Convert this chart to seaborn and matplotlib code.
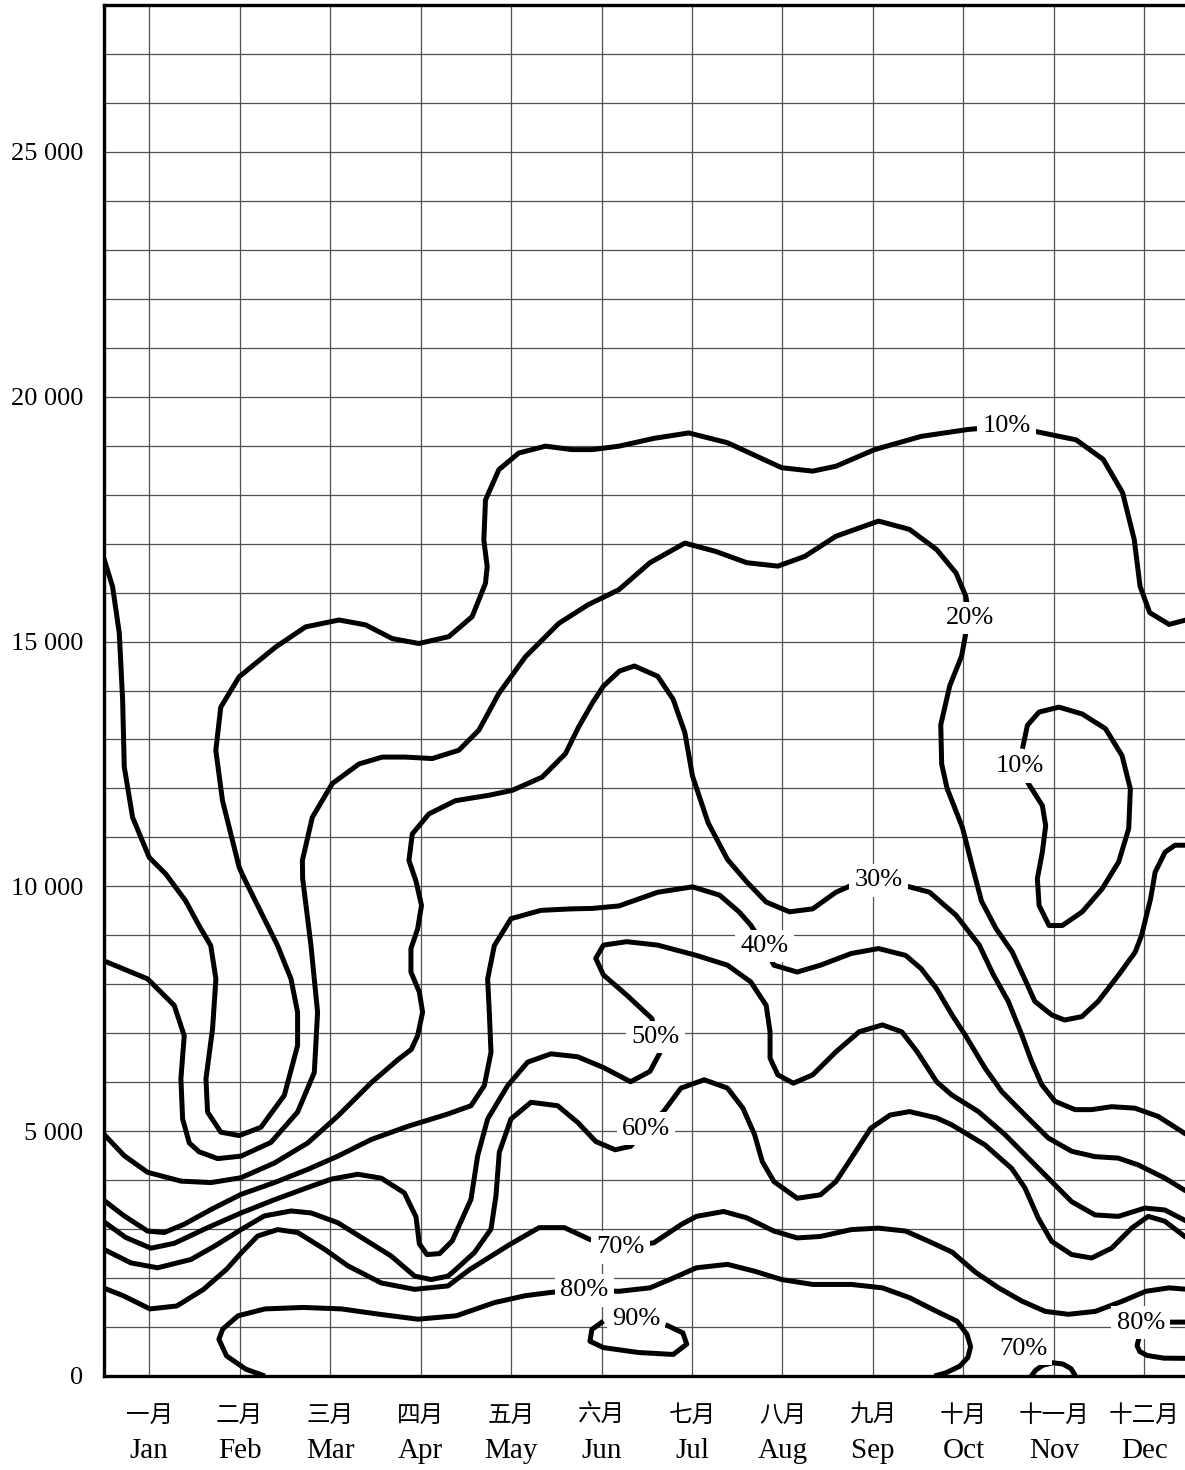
import matplotlib
matplotlib.use("Agg")
import matplotlib.pyplot as plt
import seaborn as sns
import pandas as pd
from matplotlib.ticker import MultipleLocator, FuncFormatter

# ---------------- data ----------------
months_en = ["Jan", "Feb", "Mar", "Apr", "May", "Jun", "Jul", "Aug", "Sep", "Oct", "Nov", "Dec"]
months_zh = ["一月", "二月", "三月", "四月", "五月", "六月", "七月", "八月", "九月", "十月", "十一月", "十二月"]
month_pos = [1, 2, 3, 4, 5, 6, 7, 8, 9, 10, 11, 12]
ytick_values = [0, 5000, 10000, 15000, 20000, 25000]

# 10% main line
c10_x = [0.49, 0.503, 0.595, 0.669, 0.706, 0.724, 0.816, 1.0, 1.184, 1.40, 1.55, 1.68, 1.737, 1.70, 1.627,
         1.645, 1.792, 1.995, 2.235, 2.493, 2.640, 2.640, 2.567, 2.419, 2.198, 2.05, 1.994, 1.81, 1.736,
         1.791, 1.994, 2.399, 2.730, 3.098, 3.392, 3.687, 3.981, 4.312, 4.570, 4.717, 4.736, 4.699, 4.717,
         4.865, 5.085, 5.380, 5.674, 5.90, 6.193, 6.58, 6.964, 7.392, 7.991, 8.334, 8.591, 9.019, 9.533,
         10.047, 10.47, 10.797, 11.246, 11.546, 11.760, 11.889, 11.953, 12.060, 12.274, 12.48]
c10_y = [16750, 16670, 16120, 15170, 13800, 12440, 11410, 10590, 10250, 9710, 9200, 8790, 8110, 7090, 6070,
         5390, 4980, 4910, 5080, 5730, 6750, 7430, 8110, 8790, 9610, 10160, 10390, 11750, 12780,
         13660, 14280, 14890, 15300, 15440, 15340, 15060, 14960, 15100, 15510, 16190, 16530, 17070, 17890,
         18510, 18850, 18990, 18920, 18920, 18990, 19150, 19260, 19060, 18550, 18480, 18580, 18920, 19190,
         19330, 19400, 19290, 19120, 18720, 18040, 17080, 16130, 15590, 15350, 15450]

# 10% closed loop (Nov)
c10b_x = [10.653, 10.708, 10.837, 11.057, 11.314, 11.571, 11.754, 11.846, 11.828, 11.717, 11.534, 11.314,
          11.094, 10.947, 10.837, 10.818, 10.873, 10.910, 10.873, 10.708]
c10b_y = [12810, 13290, 13560, 13660, 13520, 13220, 12670, 11990, 11180, 10500, 9950, 9480,
          9200, 9200, 9610, 10160, 10700, 11240, 11650, 12130]

# 20%
c20_x = [0.484, 0.982, 1.276, 1.387, 1.350, 1.369, 1.443, 1.55, 1.756, 2.014, 2.345, 2.640, 2.825, 2.861,
         2.788, 2.696, 2.693, 2.803, 3.024, 3.319, 3.576, 3.834, 4.128, 4.423, 4.644, 4.865, 5.159, 5.527,
         5.85, 6.193, 6.535, 6.921, 7.263, 7.606, 7.949, 8.248, 8.591, 9.062, 9.405, 9.704, 9.919, 10.026,
         10.07, 10.03, 9.98, 9.85, 9.75, 9.76, 9.82, 9.99, 10.10, 10.20, 10.36, 10.54, 10.68, 10.79, 10.98,
         11.12, 11.31, 11.49, 11.72, 11.90, 11.97, 12.07, 12.12, 12.23, 12.34, 12.47]
c20_y = [8490, 8110, 7570, 6950, 6070, 5250, 4760, 4580, 4440, 4490, 4770, 5390, 6200, 7430,
         8790, 10160, 10530, 11410, 12100, 12500, 12640, 12640, 12610, 12780, 13190, 13940, 14690, 15370,
         15750, 16060, 16610, 17010, 16840, 16610, 16540, 16740, 17150, 17460, 17290, 16880, 16400, 15930,
         15480, 15200, 14700, 14100, 13300, 12500, 12000, 11200, 10400, 9700, 9140, 8660, 8100, 7650, 7370,
         7270, 7340, 7650, 8200, 8660, 9000, 9750, 10290, 10700, 10840, 10840]

# 30%
c30_x = [0.483, 0.723, 0.982, 1.351, 1.683, 2.015, 2.384, 2.753, 3.085, 3.454, 3.749, 3.897, 3.967, 4.022,
         3.986, 3.893, 3.893, 3.967, 4.01, 3.95, 3.871, 3.908, 4.092, 4.386, 4.754, 5.012, 5.343, 5.601,
         5.748, 5.90, 6.021, 6.20, 6.364, 6.621, 6.792, 6.921, 7.006, 7.178, 7.392, 7.606, 7.82, 8.077,
         8.334, 8.591, 8.80, 9.062, 9.405, 9.626, 9.919, 10.176, 10.33, 10.497, 10.645, 10.755, 10.866,
         11.013, 11.234, 11.418, 11.639, 11.897, 12.155, 12.468]
c30_y = [4970, 4500, 4160, 3980, 3950, 4050, 4350, 4760, 5310, 5990, 6460, 6670, 6950, 7430,
         7840, 8250, 8730, 9130, 9610, 10100, 10530, 11070, 11480, 11750, 11860, 11960, 12230, 12710,
         13260, 13750, 14090, 14400, 14500, 14290, 13820, 13140, 12250, 11300, 10550, 10090, 9680, 9480,
         9540, 9880, 10050, 10120, 9990, 9880, 9410, 8800, 8200, 7650, 6970, 6420, 5950,
         5610, 5440, 5440, 5500, 5470, 5300, 4930]

# 40%
c40_x = [0.483, 0.723, 0.982, 1.166, 1.387, 1.683, 2.015, 2.384, 2.753, 3.085, 3.454, 3.860, 4.30, 4.557,
         4.704, 4.778, 4.76, 4.741, 4.815, 4.999, 5.331, 5.663, 5.90, 6.193, 6.621, 7.006, 7.306, 7.520,
         7.649, 7.80, 7.906, 8.163, 8.420, 8.762, 9.062, 9.362, 9.533, 9.704, 9.876, 10.018, 10.239, 10.424,
         10.681, 10.939, 11.197, 11.455, 11.713, 11.934, 12.228, 12.468]
c40_y = [3610, 3270, 2960, 2930, 3100, 3400, 3710, 3950, 4220, 4490, 4830, 5100, 5350, 5520,
         5930, 6610, 7400, 8110, 8790, 9340, 9510, 9540, 9550, 9600, 9880, 9990, 9820, 9480,
         9210, 8780, 8390, 8250, 8390, 8630, 8730, 8590, 8320, 7910, 7370, 6970, 6290, 5810,
         5330, 4860, 4590, 4480, 4450, 4310, 4040, 3770]

# 50%
c50_x = [0.483, 0.74, 1.018, 1.277, 1.646, 2.015, 2.384, 2.753, 3.011, 3.306, 3.565, 3.82, 3.949, 3.986,
         4.07, 4.21, 4.35, 4.557, 4.631, 4.741, 4.962, 5.183, 5.442, 5.736, 6.021, 6.321, 6.535, 6.642,
         6.60, 6.557, 6.278, 6.021, 5.936, 6.021, 6.278, 6.621, 7.049, 7.392, 7.649, 7.820, 7.863, 7.863,
         7.949, 8.120, 8.334, 8.591, 8.848, 9.105, 9.319, 9.490, 9.704, 9.871, 10.166, 10.460, 10.718,
         10.976, 11.197, 11.455, 11.713, 12.007, 12.228, 12.468]
c50_y = [3170, 2830, 2610, 2710, 3030, 3330, 3600, 3850, 4020, 4120, 4040, 3740, 3250, 2700,
         2480, 2500, 2760, 3610, 4500, 5250, 5930, 6410, 6580, 6520, 6300, 6010, 6220, 6590,
         6920, 7300, 7780, 8190, 8530, 8800, 8870, 8800, 8590, 8390, 8050, 7570, 7030, 6490,
         6150, 5980, 6150, 6620, 7030, 7170, 7030, 6620, 6010, 5740, 5400, 4930, 4450,
         3970, 3560, 3290, 3260, 3430, 3390, 3160]

# 60%
c60_x = [0.483, 0.797, 1.092, 1.461, 1.720, 2.015, 2.273, 2.568, 2.790, 3.085, 3.380, 3.675, 3.934, 4.118,
         4.303, 4.373, 4.594, 4.778, 4.833, 4.870, 4.999, 5.220, 5.515, 5.736, 5.936, 6.150, 6.321, 6.49,
         6.685, 6.878, 7.135, 7.392, 7.563, 7.692, 7.777, 7.906, 8.163, 8.420, 8.591, 8.762, 8.976, 9.191,
         9.405, 9.704, 9.871, 10.239, 10.534, 10.681, 10.829, 10.976, 11.197, 11.418, 11.639, 11.860,
         12.044, 12.228, 12.468]
c60_y = [2600, 2310, 2210, 2380, 2650, 2990, 3270, 3370, 3330, 3130, 2790, 2450, 2040, 1970,
         2040, 2150, 2520, 3000, 3680, 4570, 5250, 5590, 5520, 5180, 4790, 4620, 4690, 5050,
         5400, 5880, 6050, 5880, 5470, 4930, 4380, 3970, 3630, 3700, 3970, 4450, 5060, 5330,
         5400, 5270, 5130, 4720, 4240, 3840, 3220, 2750, 2480, 2410, 2610, 3020,
         3260, 3160, 2820]

# 70% main line
c70_x = [0.479, 0.712, 1.008, 1.305, 1.601, 1.855, 2.02, 2.199, 2.421, 2.642, 2.937, 3.196, 3.565, 3.934,
         4.303, 4.54, 4.98, 5.31, 5.59, 5.87, 6.21, 6.578, 6.878, 7.049, 7.349, 7.606, 7.906, 8.163,
         8.420, 8.762, 9.062, 9.362, 9.619, 9.876, 10.133, 10.390, 10.647, 10.904, 11.161, 11.460, 11.760,
         12.017, 12.274, 12.48]
c70_y = [1810, 1640, 1370, 1430, 1770, 2180, 2520, 2860, 2990, 2930, 2590, 2250, 1900, 1770,
         1840, 2170, 2680, 3030, 3030, 2790, 2630, 2720, 3090, 3260, 3360, 3230, 2960, 2820,
         2850, 2990, 3020, 2960, 2750, 2530, 2120, 1800, 1530, 1320, 1260, 1320, 1530,
         1730, 1800, 1770]

# 70% small arc (Nov)
c70b_x = [10.75, 10.80, 10.88, 10.99, 11.10, 11.19, 11.24]
c70b_y = [0, 120, 220, 270, 245, 150, 0]

# 80% main line
c80_x = [2.278, 2.067, 1.855, 1.770, 1.813, 1.982, 2.278, 2.702, 3.125, 3.548, 3.971, 4.395, 4.818, 5.157,
         5.453, 5.81, 6.193, 6.535, 6.792, 7.049, 7.392, 7.692, 7.991, 8.334, 8.762, 9.105, 9.405, 9.704,
         9.93, 10.04, 10.08, 10.05, 9.96, 9.80, 9.68]
c80_y = [0, 140, 410, 750, 960, 1230, 1370, 1400, 1370, 1260, 1160, 1230, 1500, 1640,
         1710, 1750, 1730, 1800, 2000, 2210, 2280, 2140, 1970, 1870, 1870, 1800, 1600, 1320,
         1120, 850, 600, 380, 200, 60, 0]

# 80% piece (Dec)
c80b_x = [12.47, 12.26, 12.08, 11.97, 11.946, 11.92, 11.95, 12.03, 12.215, 12.47]
c80b_y = [1100, 1100, 1090, 1000, 810, 620, 500, 420, 365, 360]

# 90% loop
c90_x = [6.707, 6.899, 6.942, 6.792, 6.407, 6.021, 5.872, 5.893, 6.021]
c90_y = [1050, 880, 650, 440, 480, 580, 710, 950, 1120]

label_text = ["10%", "20%", "10%", "30%", "40%", "50%", "60%", "70%", "80%", "90%", "70%", "80%"]
label_x = [10.475, 10.07, 10.62, 9.06, 7.80, 6.60, 6.49, 6.21, 5.81, 6.38, 10.66, 11.96]
label_y = [19400, 15480, 12450, 10120, 8780, 6920, 5050, 2630, 1750, 1170, 560, 1090]

curves = [(c10_x, c10_y), (c10b_x, c10b_y), (c20_x, c20_y), (c30_x, c30_y), (c40_x, c40_y),
          (c50_x, c50_y), (c60_x, c60_y), (c70_x, c70_y), (c70b_x, c70b_y), (c80_x, c80_y),
          (c80b_x, c80b_y), (c90_x, c90_y)]

# ---------------- figure ----------------
sns.set_theme(style="white")
plt.rcParams["font.family"] = ["Liberation Serif", "Noto Sans CJK SC"]

W, H = 1185, 1470
fig = plt.figure(figsize=(W / 100, H / 100), dpi=100)
ax = fig.add_axes([104 / W, 94 / H, (W - 104) / W, 1371 / H])

for xs, ys in curves:
    df = pd.DataFrame({"month": xs, "value": ys})
    sns.lineplot(data=df, x="month", y="value", sort=False, estimator=None, color="black",
                 lw=3.6, ax=ax, solid_joinstyle="round", solid_capstyle="butt", zorder=3)

for t, x, y in zip(label_text, label_x, label_y):
    ax.text(x, y, t, ha="center", va="center", fontsize=19, family="Liberation Serif", color="black",
            bbox=dict(boxstyle="square,pad=0.2", fc="white", ec="none"), zorder=5)

ax.set_xlim(0.5, 12.45)
ax.set_ylim(0, 28000)

ax.set_xticks(month_pos)
ax.set_xticklabels(months_en, fontsize=21, family="Liberation Serif")
ax.set_yticks(ytick_values)
ax.yaxis.set_major_formatter(FuncFormatter(lambda v, p: f"{int(v):,}".replace(",", " ")))
ax.yaxis.set_minor_locator(MultipleLocator(1000))
for lab in ax.get_yticklabels():
    lab.set_fontsize(19)
    lab.set_family("Liberation Serif")
ax.tick_params(axis="x", which="both", length=0, pad=45, colors="black")
ax.tick_params(axis="y", which="both", length=0, pad=15, colors="black")

for xp, zh in zip(month_pos, months_zh):
    ax.text(xp, -39 / 1371, zh, transform=ax.get_xaxis_transform(), ha="center", va="center",
            fontsize=17, family=["Noto Sans CJK SC"], color="black")

ax.set_axisbelow(True)
ax.grid(True, which="major", axis="x", color="#505050", lw=0.9)
ax.grid(True, which="both", axis="y", color="#505050", lw=0.9)

ax.set_xlabel("")
ax.set_ylabel("")
for side in ["left", "top", "bottom"]:
    ax.spines[side].set_visible(True)
    ax.spines[side].set_color("black")
    ax.spines[side].set_linewidth(2.4)
ax.spines["right"].set_visible(False)

fig.savefig("out.png", dpi=100)
